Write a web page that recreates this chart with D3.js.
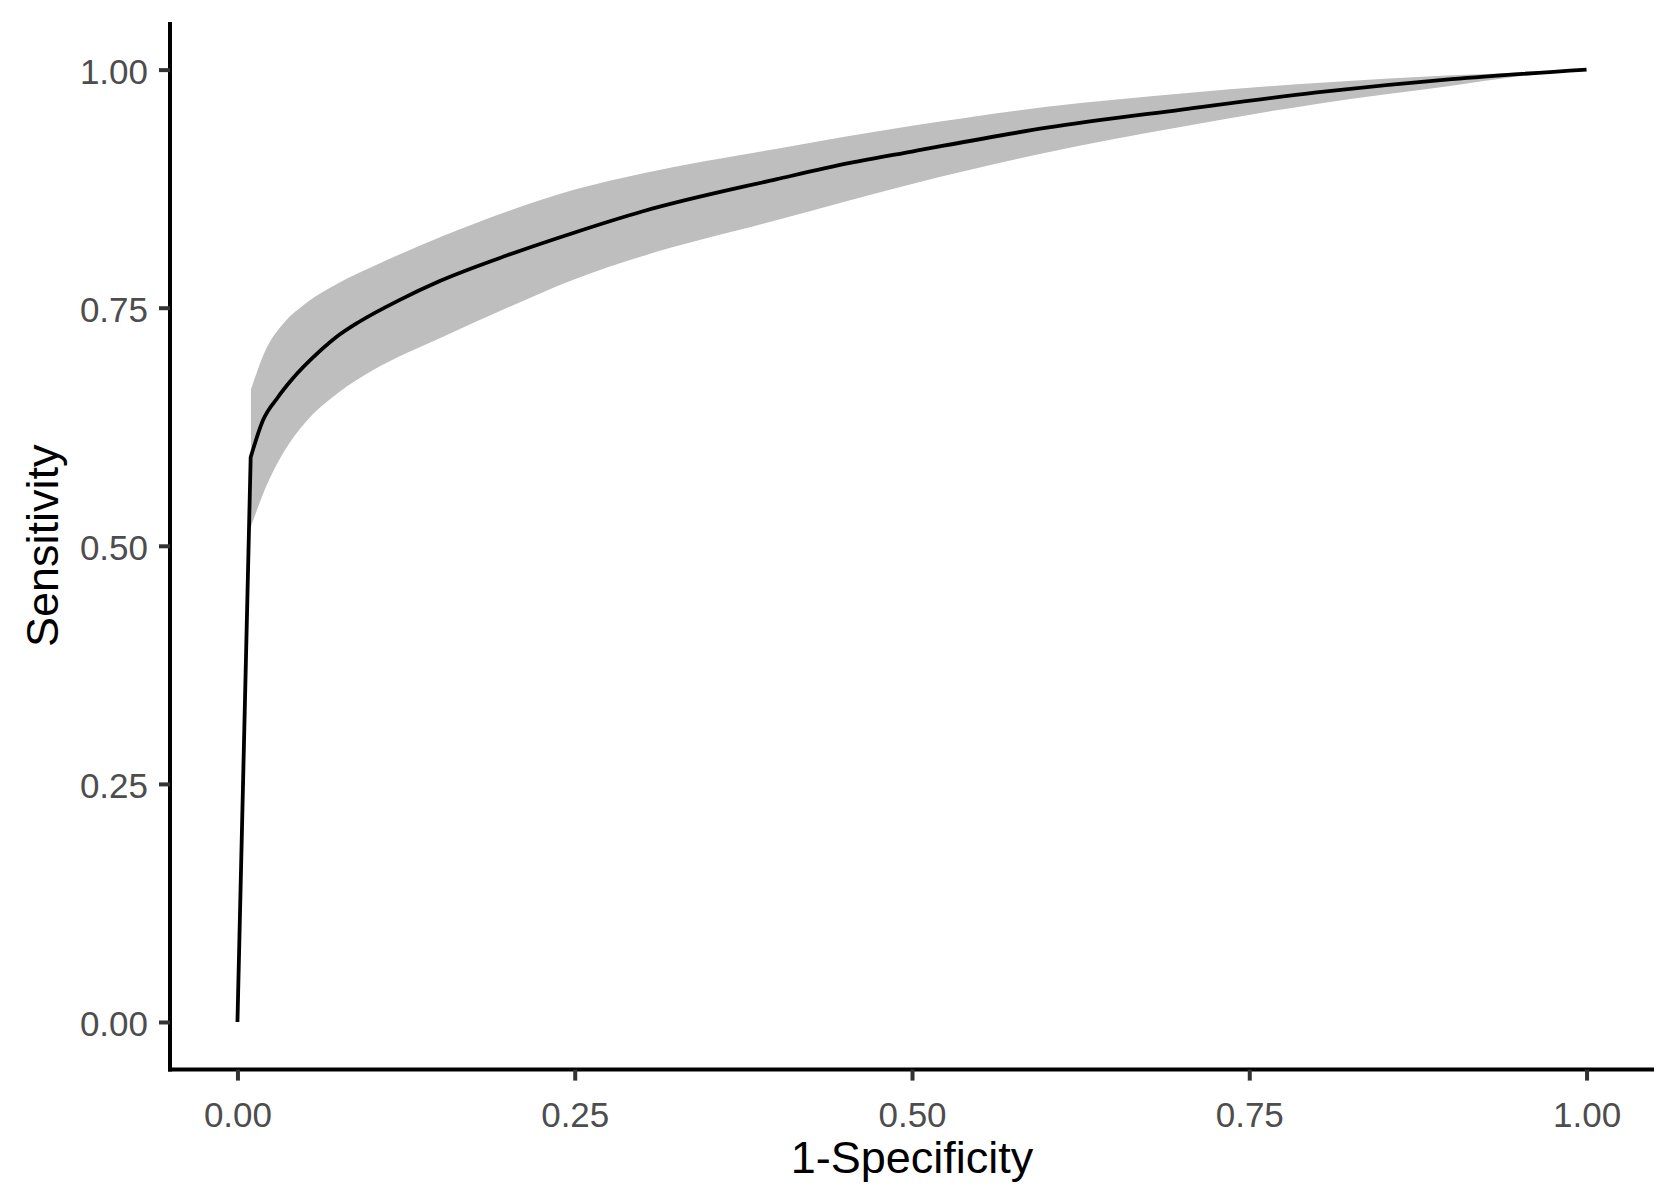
<!DOCTYPE html>
<html>
<head>
<meta charset="utf-8">
<script src="https://cdn.jsdelivr.net/npm/d3@7"></script>
<style>
  body { margin: 0; background: #fff; }
  svg text { font-family: "Liberation Sans", Arial, sans-serif; }
</style>
</head>
<body>
<div id="d3-div"></div>
<script>
// ROC curve (1-specificity vs sensitivity)
let curveX = [0, 0.0098, 0.019, 0.03, 0.04, 0.06, 0.075, 0.09, 0.12, 0.15, 0.2, 0.25, 0.3, 0.4, 0.454, 0.5, 0.6, 0.7, 0.8, 0.9, 1.0];
let curveY = [0, 0.593, 0.632, 0.656, 0.674, 0.703, 0.721, 0.735, 0.758, 0.778, 0.805, 0.829, 0.851, 0.885, 0.902, 0.914, 0.939, 0.958, 0.976, 0.990, 1.0];

// confidence band
let bandX = [0.01, 0.02, 0.035, 0.05, 0.075, 0.1, 0.15, 0.2, 0.25, 0.3, 0.4, 0.5, 0.6, 0.7, 0.8, 0.9, 0.95, 1.0];
let bandLower = [0.52, 0.558, 0.600, 0.629, 0.661, 0.684, 0.718, 0.75, 0.78, 0.804, 0.842, 0.880, 0.913, 0.940, 0.964, 0.983, 0.993, 1.0];
let bandUpper = [0.664, 0.703, 0.735, 0.754, 0.776, 0.793, 0.824, 0.851, 0.874, 0.891, 0.917, 0.941, 0.961, 0.975, 0.986, 0.994, 0.997, 1.0];

let ticks = [0, 0.25, 0.5, 0.75, 1.0];
let tickLabels = ["0.00", "0.25", "0.50", "0.75", "1.00"];

let width = 1678;
let height = 1203;
let padLeft = 170, padRight = 1654, padTop = 22, padBottom = 1069.6;

let xScale = d3.scaleLinear().domain([-0.05, 1.05]).range([padLeft, padRight]);
let yScale = d3.scaleLinear().domain([-0.05, 1.05]).range([padBottom, padTop]);

let svg = d3
  .select("#d3-div")
  .append("svg")
  .attr("width", width)
  .attr("height", height);

let band = bandX.map((x, i) => ({ x: x, lo: bandLower[i], hi: bandUpper[i] }));
let curve = curveX.map((x, i) => ({ x: x, y: curveY[i] }));

svg.append("path")
  .datum(band)
  .attr("fill", "#bebebe")
  .attr("d", d3.area()
    .curve(d3.curveMonotoneX)
    .x((d) => xScale(d.x))
    .y0((d) => yScale(d.lo))
    .y1((d) => yScale(d.hi)));

// straight rise, then smooth part of the curve
svg.append("path")
  .datum(curve)
  .attr("fill", "none")
  .attr("stroke", "#000")
  .attr("stroke-width", 3.8)
  .attr("stroke-linejoin", "round")
  .attr("d", (d) => {
    let first = d3.line().x((p) => xScale(p.x)).y((p) => yScale(p.y))(d.slice(0, 2));
    let rest = d3.line().curve(d3.curveMonotoneX).x((p) => xScale(p.x)).y((p) => yScale(p.y))(d.slice(1));
    return first + rest.replace(/^M/, "L");
  });

// axes
let xAxis = d3.axisBottom(xScale)
  .tickValues(ticks)
  .tickFormat((d, i) => tickLabels[i])
  .tickSize(11)
  .tickSizeOuter(0);
let gx = svg.append("g").attr("transform", `translate(0, ${padBottom})`).call(xAxis);

let yAxis = d3.axisLeft(yScale)
  .tickValues(ticks)
  .tickFormat((d, i) => tickLabels[i])
  .tickSize(11)
  .tickSizeOuter(0);
let gy = svg.append("g").attr("transform", `translate(${padLeft}, 0)`).call(yAxis);

[gx, gy].forEach((g) => {
  g.select(".domain").attr("stroke", "#000").attr("stroke-width", 4);
  g.selectAll(".tick line").attr("stroke", "#333").attr("stroke-width", 4);
  g.selectAll(".tick text")
    .attr("fill", "#4d4d4d")
    .attr("font-size", 35)
    .attr("font-family", "Liberation Sans, Arial, sans-serif");
});
gx.select(".domain").attr("d", `M${padLeft - 2},0H${padRight}`);
gy.select(".domain").attr("d", `M0,${padTop}V${padBottom + 2}`);
gx.selectAll(".tick text").attr("y", 33).attr("dy", "0.71em");
gy.selectAll(".tick text").attr("x", -22).attr("dy", "0.4em");

svg.append("text")
  .attr("x", (padLeft + padRight) / 2)
  .attr("y", 1173)
  .attr("text-anchor", "middle")
  .attr("font-size", 45)
  .attr("fill", "#000")
  .text("1-Specificity");

svg.append("text")
  .attr("transform", `translate(58, ${(padTop + padBottom) / 2}) rotate(-90)`)
  .attr("text-anchor", "middle")
  .attr("font-size", 45)
  .attr("fill", "#000")
  .text("Sensitivity");
</script>
</body>
</html>
